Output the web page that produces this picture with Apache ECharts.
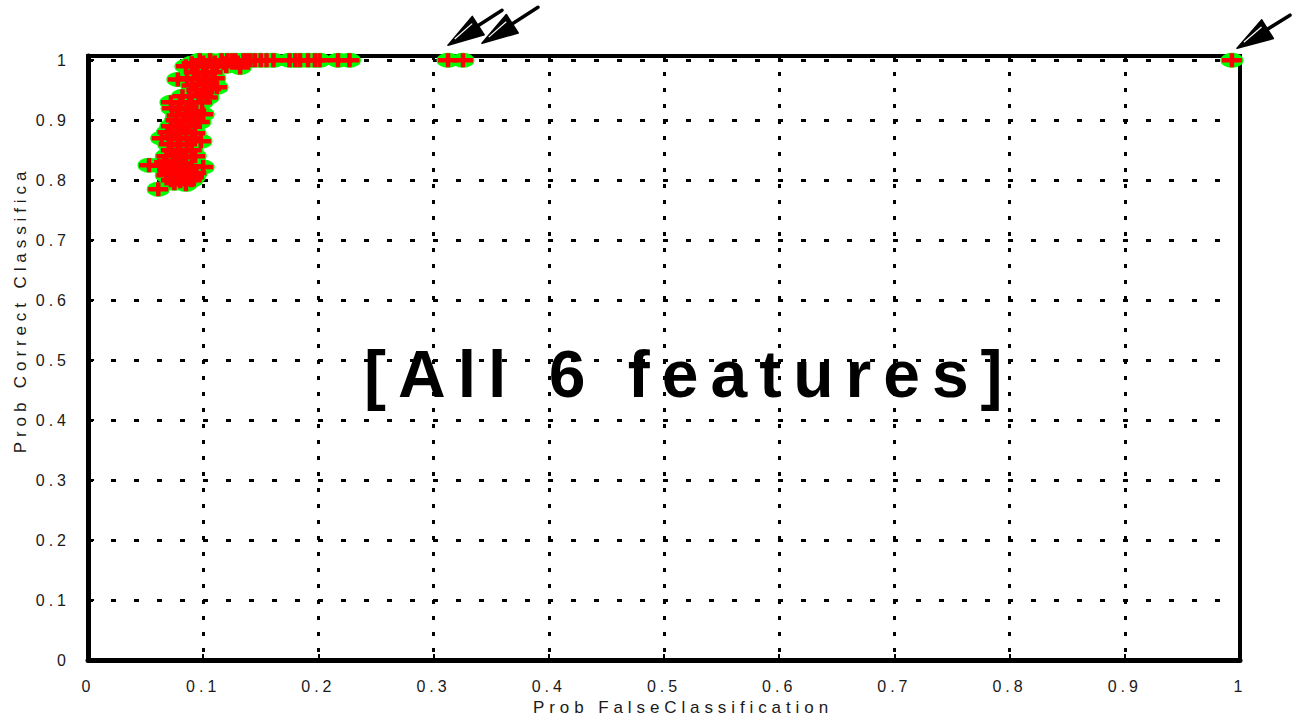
<!DOCTYPE html>
<html>
<head>
<meta charset="utf-8">
<script src="https://cdn.jsdelivr.net/npm/echarts@6/dist/echarts.min.js"></script>
<style>
html,body{margin:0;padding:0;background:#fff;}
#chart{width:1296px;height:717px;}
#chart text[style*="16px"]{letter-spacing:4px;}
#chart text[style*="17px"]{letter-spacing:4.9px;}
#chart text[style*="66px"]{letter-spacing:12px;}
</style>
</head>
<body>
<div id="chart"></div>
<script>
// ---- data ----
const probFalse = [
  0.097,0.106,0.116,0.121,0.125,0.128,0.135,0.138,0.141,0.145,0.150,0.155,0.161,0.175,0.180,0.184,0.191,0.197,0.201,0.217,0.227,
  0.3125,0.3255,0.993,
  0.090,0.100,0.110,0.118,0.130,
  0.085,0.095,0.103,0.112,0.120,0.132,
  0.092,0.100,0.108,
  0.078,0.086,0.096,0.103,0.110,
  0.090,0.100,0.112,
  0.094,0.101,0.107,
  0.082,0.088,0.096,0.104,
  0.072,0.080,0.090,0.099,
  0.073,0.079,0.086,0.094,
  0.077,0.085,0.092,0.100,
  0.076,0.083,0.090,0.097,
  0.072,0.080,0.088,
  0.069,0.077,0.085,0.093,
  0.064,0.072,0.080,0.090,0.098,
  0.070,0.078,0.086,
  0.072,0.080,0.090,
  0.068,0.076,0.085,0.093,
  0.066,0.074,0.082,
  0.053,0.062,0.072,0.080,0.090,0.100,
  0.070,0.078,0.086,0.094,
  0.068,0.076,0.084,0.092,
  0.072,0.080,0.090,
  0.075,0.085,
  0.061
];
const probCorrect = [
  1,1,1,1,1,1,1,1,1,1,1,1,1,1,1,1,1,1,1,1,1,
  1,1,1,
  0.995,0.996,0.996,0.995,0.996,
  0.990,0.990,0.990,0.990,0.990,0.988,
  0.980,0.978,0.980,
  0.968,0.970,0.968,0.966,0.970,
  0.958,0.960,0.955,
  0.950,0.948,0.952,
  0.940,0.940,0.942,0.938,
  0.930,0.928,0.930,0.930,
  0.920,0.918,0.920,0.915,
  0.908,0.910,0.905,0.910,
  0.900,0.898,0.900,0.897,
  0.890,0.888,0.890,
  0.880,0.878,0.882,0.878,
  0.870,0.872,0.868,0.870,0.865,
  0.860,0.858,0.860,
  0.850,0.848,0.850,
  0.840,0.842,0.838,0.840,
  0.830,0.832,0.828,
  0.825,0.824,0.822,0.825,0.823,0.822,
  0.815,0.813,0.815,0.812,
  0.808,0.806,0.808,0.805,
  0.800,0.798,0.800,
  0.795,0.793,
  0.785
];
// annotation arrows (tail x, tail y, tip x, tip y) in data units
const arrowTailX = [0.3594, 0.3906, 1.0434];
const arrowTailY = [1.0833, 1.0883, 1.0750];
const arrowTipX  = [0.3125, 0.3420, 0.9974];
const arrowTipY  = [1.0250, 1.0283, 1.0200];
const annotationText = '[All 6 features]';
const annotationPos = [0.522, 0.477];
const xName = 'Prob FalseClassification';
const yName = 'Prob Correct Classifica';
const xTickStep = 0.1;
const yTickStep = 0.1;

// ---- chart ----
const points = probFalse.map((x, i) => [x, probCorrect[i]]);
const arrows = arrowTailX.map((x, i) => [x, arrowTailY[i], arrowTipX[i], arrowTipY[i]]);

const FONT = 'Liberation Sans';
function tickFmt(v) {
  const r = Math.round(v * 10);
  if (Math.abs(v * 10 - r) > 1e-6) return '';
  return String(r / 10);
}

function renderArrow(params, api) {
  const tail = api.coord([api.value(0), api.value(1)]);
  const tip = api.coord([api.value(2), api.value(3)]);
  const dx = tip[0] - tail[0], dy = tip[1] - tail[1];
  const len = Math.hypot(dx, dy);
  const ux = dx / len, uy = dy / len;
  const px = -uy, py = ux;
  const L = 36, W = 11;
  const bx = tip[0] - ux * L, by = tip[1] - uy * L;
  return {
    type: 'group',
    children: [
      { type: 'line', shape: { x1: tail[0], y1: tail[1], x2: bx + ux * 4, y2: by + uy * 4 },
        style: { stroke: '#000', lineWidth: 3.5, lineCap: 'round' } },
      { type: 'polygon', shape: { points: [tip, [bx + px * W, by + py * W], [bx - px * W, by - py * W]] },
        style: { fill: '#000', stroke: '#000', lineWidth: 1.5, lineJoin: 'round' } },
      { type: 'line', shape: { x1: tip[0] - ux * 9 + px * 1.5, y1: tip[1] - uy * 9 + py * 1.5,
                               x2: bx + ux * 4 + px * 5, y2: by + uy * 4 + py * 5 },
        style: { stroke: '#fff', lineWidth: 1.2 } }
    ]
  };
}

const chart = echarts.init(document.getElementById('chart'), null, { renderer: 'svg' });

const option = {
  animation: false,
  backgroundColor: '#fff',
  grid: { left: 88, right: 56, top: 56, bottom: 57, containLabel: false, outerBoundsMode: 'none',
          show: true, borderColor: '#000', borderWidth: 4, backgroundColor: 'transparent' },
  xAxis: {
    type: 'value', min: 0, max: 1, interval: xTickStep,
    name: xName, nameLocation: 'middle', nameGap: 36,
    nameTextStyle: { fontSize: 17, color: '#1a1a1a', fontFamily: FONT, padding: [0, 0, 0, 38] },
    axisLine: { show: true, onZero: false, lineStyle: { color: '#000', width: 5 } },
    axisTick: { show: true, inside: true, length: 6, lineStyle: { color: '#000', width: 2 } },
    axisLabel: { margin: 18, fontSize: 16, color: '#1a1a1a', fontFamily: FONT, formatter: tickFmt },
    splitLine: { show: true, lineStyle: { color: '#000', width: 3, type: [4, 12] } }
  },
  yAxis: {
    type: 'value', min: 0, max: 1.007, interval: yTickStep,
    name: yName, nameLocation: 'middle', nameGap: 59,
    nameTextStyle: { fontSize: 17, color: '#1a1a1a', fontFamily: FONT, padding: [0, 0, 0, 96] },
    axisLine: { show: true, onZero: false, lineStyle: { color: '#000', width: 5 } },
    axisTick: { show: true, inside: true, length: 6, lineStyle: { color: '#000', width: 2 } },
    axisLabel: { margin: 18, fontSize: 16, color: '#1a1a1a', fontFamily: FONT, formatter: tickFmt },
    splitLine: { show: true, lineStyle: { color: '#000', width: 3, type: [5, 18] } }
  },
  series: [
    {
      type: 'scatter', data: points, silent: true,
      symbol: 'path://M0,10 A10,10 0 1,1 20,10 A10,10 0 1,1 0,10 Z',
      symbolSize: [23, 15],
      itemStyle: { color: '#00ff00', opacity: 1 }, z: 3
    },
    {
      type: 'scatter', data: points, silent: true,
      symbol: 'path://M7.75,0 H12.25 V4.75 H20 V9.25 H12.25 V14 H7.75 V9.25 H0 V4.75 H7.75 Z',
      symbolSize: [20, 14],
      itemStyle: { color: '#ff0000', opacity: 1 }, z: 4
    },
    {
      type: 'custom', data: arrows, silent: true, clip: false,
      encode: { x: [0, 2], y: [1, 3] },
      renderItem: renderArrow, z: 5
    }
  ]
};
chart.setOption(option);

const c = chart.convertToPixel({ gridIndex: 0 }, annotationPos);
chart.setOption({
  graphic: [{
    type: 'text', x: c[0], y: c[1], z: -10, silent: true,
    style: { text: annotationText, font: 'bold 66px "Liberation Sans"', fill: '#000',
             align: 'center', verticalAlign: 'middle', textAlign: 'center', textVerticalAlign: 'middle' }
  }]
});
</script>
</body>
</html>
